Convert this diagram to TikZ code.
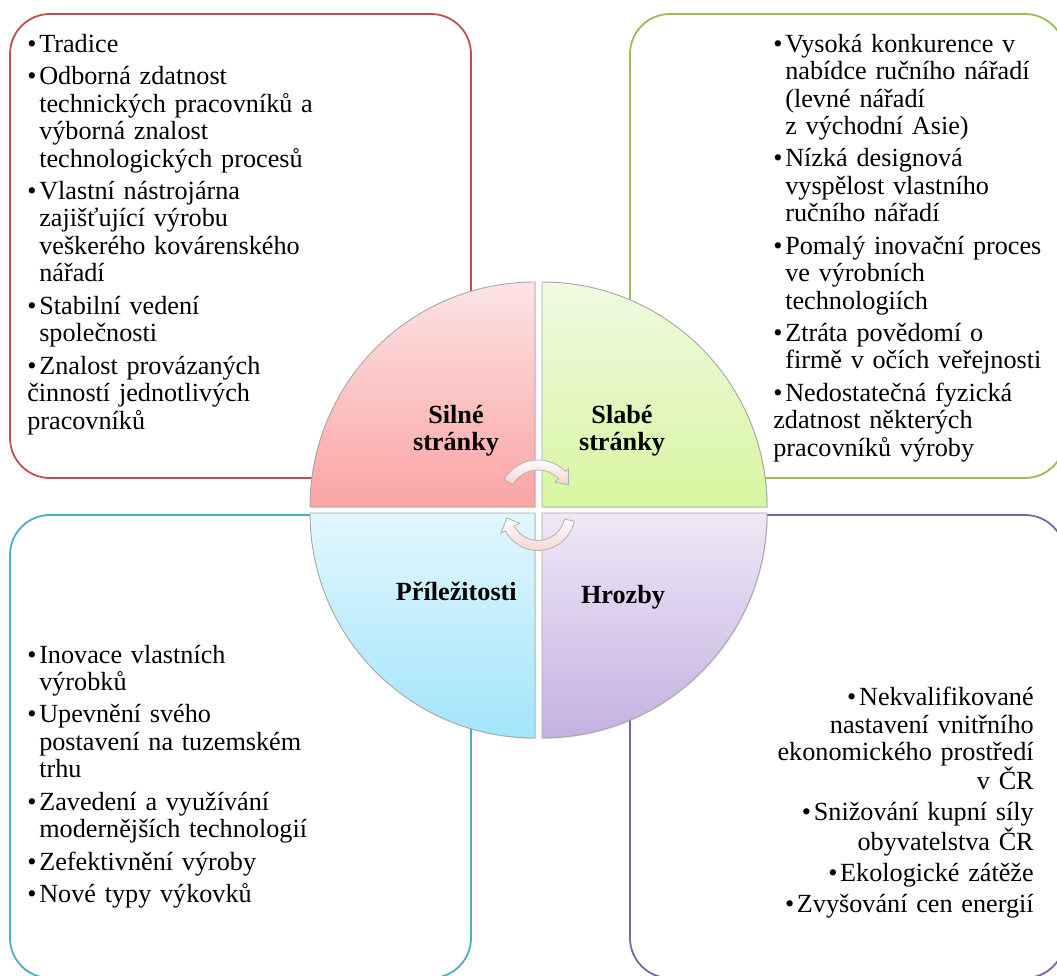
\documentclass[tikz,border=0pt]{standalone}
\usepackage{fontspec}
\setmainfont{Liberation Serif}
\usepackage{tikz}
\usetikzlibrary{positioning, shadows}
\definecolor{swotred}{HTML}{C0504D}
\definecolor{swotgreen}{HTML}{9BBB59}
\definecolor{swotblue}{HTML}{4BACC6}
\definecolor{swotpurple}{HTML}{8064A2}
\definecolor{redtop}{HTML}{FDE3E4}
\definecolor{redbot}{HTML}{FAA4A3}
\definecolor{greentop}{HTML}{F0FAE2}
\definecolor{greenbot}{HTML}{D7F6A0}
\definecolor{bluetop}{HTML}{E2F7FD}
\definecolor{bluebot}{HTML}{A2E5FB}
\definecolor{purpletop}{HTML}{EEE8F6}
\definecolor{purplebot}{HTML}{C5B1E2}
\definecolor{arrowpink}{HTML}{F5D0D0}
\newcommand{\swotsize}{\fontsize{26.2}{27.5}\selectfont}
\newcommand{\itm}{\hangindent=12pt\hangafter=1\makebox[12pt][l]{\textbullet}}
\tikzstyle{rblock} = [rectangle, draw=swotred, line width=1.8pt, 
rounded corners=40pt, minimum width=461pt, minimum height=464pt]
\tikzstyle{gblock} = [rectangle, draw=swotgreen, line width=1.8pt, 
rounded corners=40pt, minimum width=435pt, minimum height=464pt]
\tikzstyle{bblock} = [rectangle, draw=swotblue, line width=1.8pt, 
rounded corners=40pt, minimum width=461pt, minimum height=463pt]
\tikzstyle{pblock} = [rectangle, draw=swotpurple, line width=1.8pt, 
rounded corners=40pt, minimum width=435pt, minimum height=463pt]
\tikzstyle{items} = [inner sep=0pt, align=left, font=\swotsize, 
execute at begin node={\setlength{\parskip}{4.8pt}}]
\tikzstyle{ritems} = [inner sep=0pt, align=right, font=\swotsize, 
execute at begin node={\setlength{\parskip}{3.6pt}}]
\tikzstyle{swottitle} = [inner sep=0pt, text width=140pt, align=center, 
font=\swotsize\bfseries, anchor=base]
\tikzstyle{quarter} = [draw=gray!70, line width=0.9pt, 
drop shadow={shadow xshift=1pt, shadow yshift=-1pt, opacity=0.2}]
\tikzstyle{cycarrow} = [draw=gray!60, line width=0.8pt, top color=white, bottom color=arrowpink]

\begin{document}
\begin{tikzpicture}[x=1pt, y=1pt]
                \useasboundingbox (0,0) rectangle (1057,-976);
                \node (box1) [rblock] at (240.5,-246) {};
                \node (box2) [gblock] at (847.5,-246) {};
                \node (box3) [bblock] at (240.5,-746.5) {};
                \node (box4) [pblock] at (847.5,-746.5) {};
                \node (s) [items, text width=300pt, anchor=base west] at ([shift={(18pt,-39.3pt)}]box1.north west) {
                \itm Tradice\par
                \itm Odborná zdatnost\newline technických pracovníků a\newline výborná znalost\newline technologických procesů\par
                \itm Vlastní nástrojárna\newline zajišťující výrobu\newline veškerého kovárenského\newline nářadí\par
                \itm Stabilní vedení\newline společnosti\par
                \itm Znalost provázaných\newline činností jednotlivých\newline pracovníků};
                \node (w) [items, text width=280pt, anchor=base west] at ([shift={(144pt,-39pt)}]box2.north west) {
                \itm Vysoká konkurence v\newline nabídce ručního nářadí\newline (levné nářadí\newline z východní Asie)\par
                \itm Nízká designová\newline vyspělost vlastního\newline ručního nářadí\par
                \itm Pomalý inovační proces\newline ve výrobních\newline technologiích\par
                \itm Ztráta povědomí o\newline firmě v očích veřejnosti\par
                \itm Nedostatečná fyzická\newline zdatnost některých\newline pracovníků výroby};
                \node (o) [items, text width=300pt, anchor=base west] at ([shift={(18pt,-149pt)}]box3.north west) {
                \itm Inovace vlastních\newline výrobků\par
                \itm Upevnění svého\newline postavení na tuzemském\newline trhu\par
                \itm Zavedení a využívání\newline modernějších technologií\par
                \itm Zefektivnění výroby\par
                \itm Nové typy výkovků};
                \node (t) [ritems, text width=280pt, anchor=base east] at ([shift={(-32pt,-191.7pt)}]box4.north east) {
                \textbullet\hspace{2.8pt}Nekvalifikované\\nastavení vnitřního\\ekonomického prostředí\\v ČR\par
                \textbullet\hspace{2.8pt}Snižování kupní síly\\obyvatelstva ČR\par
                \textbullet\hspace{2.8pt}Ekologické zátěže\par
                \textbullet\hspace{2.8pt}Zvyšování cen energií};
                % circle quarters
                \path[quarter, top color=redtop, bottom color=redbot] (535,-507) -- (310,-507) arc[start angle=180, end angle=90, radius=225pt] -- cycle;
                \path[quarter, top color=greentop, bottom color=greenbot] (542,-507) -- (542,-282) arc[start angle=90, end angle=0, radius=225pt] -- cycle;
                \path[quarter, top color=bluetop, bottom color=bluebot] (535,-513) -- (310,-513) arc[start angle=180, end angle=270, radius=225pt] -- cycle;
                \path[quarter, top color=purpletop, bottom color=purplebot] (542,-513) -- (767,-513) arc[start angle=0, end angle=-90, radius=225pt] -- cycle;
                \node (sl) [swottitle] at (456,-423) {Silné\\stránky};
                \node (wl) [swottitle] at (622,-423) {Slabé\\stránky};
                \node (ol) [swottitle] at (456.3,-600.7) {Příležitosti};
                \node (tl) [swottitle] at (623,-603.3) {Hrozby};
                % cycle arrows
                \begin{scope}[shift={(538,-499)}]
                \path[cycarrow] (150:39pt) arc[start angle=150, end angle=45, radius=39pt] -- (45:43pt) -- (25:33.5pt) -- (45:24pt) -- (45:29pt) arc[start angle=45, end angle=150, radius=29pt] -- cycle;
                \end{scope}
                \begin{scope}[shift={(538,-513.5)}]
                \path[cycarrow] (-12:37pt) arc[start angle=-12, end angle=-152, radius=37pt] -- (-152:42pt) -- (-172:31.5pt) -- (-152:21pt) -- (-152:27pt) arc[start angle=-152, end angle=-12, radius=27pt] -- cycle;
                \end{scope}
\end{tikzpicture}
\end{document}
